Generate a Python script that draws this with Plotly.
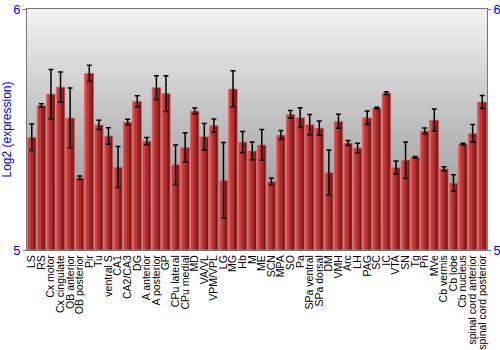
import plotly.graph_objects as go

categories = ["LS", "RS", "Cx motor", "Cx cingulate", "OB anterior", "OB posterior", "Pir", "Tu",
              "ventral S", "CA1", "CA2/CA3", "DG", "A anterior", "A posterior", "GP", "CPu lateral",
              "CPu medial", "MD", "VA/VL", "VPM/VPL", "LG", "MG", "Hb", "M", "ME", "SCN", "MPA", "SO",
              "Pa", "SPa ventral", "SPa dorsal", "DM", "VMH", "Arc", "LH", "PAG", "SC", "IC", "VTA",
              "SN", "Tg", "Pn", "MVe", "Cb vermis", "Cb lobe", "Cb nucleus", "spinal cord anterior",
              "spinal cord posterior"]
values = [5.468, 5.600, 5.647, 5.676, 5.548, 5.300, 5.733, 5.519, 5.473, 5.344, 5.531, 5.617,
          5.452, 5.674, 5.649, 5.354, 5.426, 5.577, 5.470, 5.517, 5.289, 5.668, 5.448, 5.411,
          5.436, 5.284, 5.477, 5.563, 5.549, 5.520, 5.506, 5.321, 5.534, 5.444, 5.423, 5.549,
          5.589, 5.651, 5.342, 5.373, 5.385, 5.494, 5.539, 5.337, 5.278, 5.440, 5.484, 5.614]
errors = [0.055, 0.007, 0.102, 0.063, 0.124, 0.007, 0.034, 0.019, 0.034, 0.085, 0.012, 0.023,
          0.015, 0.049, 0.074, 0.082, 0.061, 0.012, 0.055, 0.027, 0.157, 0.076, 0.044, 0.037,
          0.064, 0.015, 0.019, 0.016, 0.041, 0.042, 0.029, 0.094, 0.029, 0.010, 0.020, 0.028,
          0.003, 0.006, 0.027, 0.075, 0.003, 0.012, 0.046, 0.008, 0.034, 0.003, 0.037, 0.027]
y_ticks = [5, 6]

fig = go.Figure()

# horizontal gradient within bars using overlaid stripes
stripe_colors = ["#d24c4c", "#c84040", "#bb3636", "#a82b2b", "#922222", "#7c1818"]
bar_w = 0.9
n = len(stripe_colors)
sw = bar_w / n
for i, c in enumerate(stripe_colors):
    fig.add_trace(go.Bar(x=categories, y=[v - 5 for v in values], base=5,
                         width=sw, offset=-bar_w / 2 + i * sw,
                         marker=dict(color=c, line=dict(width=0)),
                         showlegend=False, hoverinfo="skip"))
fig.add_trace(go.Bar(x=categories, y=[v - 5 for v in values], base=5,
                     width=bar_w, offset=-bar_w / 2,
                     marker=dict(color="rgba(0,0,0,0)", line=dict(color="rgba(225,130,130,0.75)", width=1)),
                     showlegend=False, hoverinfo="skip"))
fig.add_trace(go.Scatter(x=categories, y=values, mode="markers",
                         marker=dict(size=1, opacity=0),
                         error_y=dict(type="data", array=errors, color="black", thickness=1.5, width=2.5),
                         showlegend=False))
fig.add_trace(go.Scatter(x=[categories[0]], y=[5], yaxis="y2", mode="markers",
                         marker=dict(opacity=0), showlegend=False, hoverinfo="skip"))

# vertical gradient background
steps = 60
top = (242, 242, 242)
bot = (135, 135, 135)
for k in range(steps):
    t = (k + 0.5) / steps
    r = [round(top[j] + (bot[j] - top[j]) * t) for j in range(3)]
    fig.add_shape(type="rect", xref="paper", yref="paper", x0=0, x1=1,
                  y0=1 - (k + 1) / steps, y1=1 - k / steps + 0.001,
                  fillcolor=f"rgb({r[0]},{r[1]},{r[2]})", line=dict(width=0), layer="below")

fig.update_layout(
    width=500, height=350,
    margin=dict(l=27, r=13, t=9, b=100),
    barmode="overlay",
    paper_bgcolor="white", plot_bgcolor="#bbbbbb",
    font=dict(family="Liberation Sans, Arial, sans-serif"),
    xaxis=dict(type="category", tickmode="array", tickvals=categories, ticktext=categories,
               tickangle=-90, tickfont=dict(size=10.5, color="black"), automargin=False,
               showgrid=False, showline=True, linecolor="#777777", mirror=True, ticks="",
               range=[-0.5, len(categories) - 0.5]),
    yaxis=dict(range=[5, 6], tickvals=y_ticks, ticktext=[str(t) for t in y_ticks], automargin=False,
               tickfont=dict(size=13, color="blue"), showgrid=False, zeroline=False,
               showline=True, linecolor="#777777", ticks="outside", ticklen=3, tickcolor="#777777",
               title=dict(text="Log2 (expression)", font=dict(size=12, color="blue"), standoff=2)),
    yaxis2=dict(range=[5, 6], tickvals=y_ticks, ticktext=[str(t) for t in y_ticks], automargin=False,
                overlaying="y", side="right", tickfont=dict(size=13, color="blue"),
                showgrid=False, zeroline=False, showline=True, linecolor="#777777",
                ticks="outside", ticklen=3, tickcolor="#777777"),
)

fig.write_html("out.html")
